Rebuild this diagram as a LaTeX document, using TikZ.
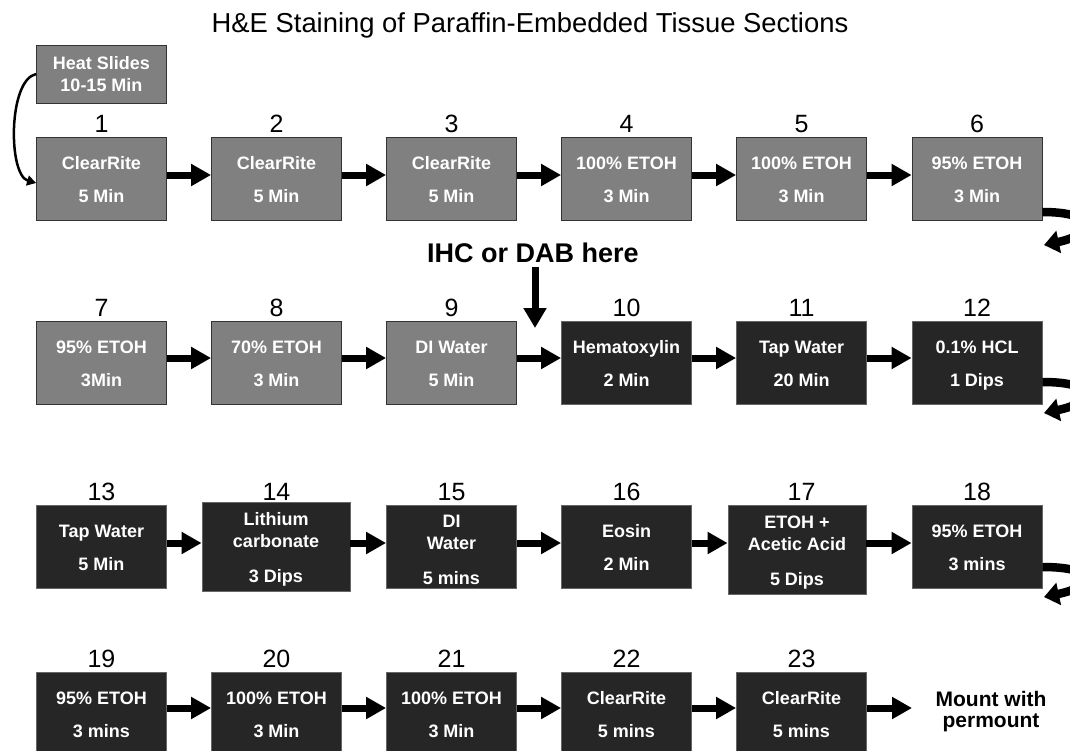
\documentclass[tikz,border=0pt]{standalone}
\usepackage{fontspec}
\setmainfont{Liberation Sans}
\usetikzlibrary{arrows.meta,calc}
\newcommand\bx[2]{\rule{0pt}{14pt}\smash{#1}\\[11pt]\smash{#2}}
\newcommand\bxx[4][14pt]{\rule{0pt}{#1}\smash{#2}\\\smash{#3}\\[13pt]\smash{#4}}
\begin{document}
\begin{tikzpicture}[x=1pt,y=-1pt,
  lbox/.style={draw=black!80, fill=black!50, line width=0.8pt, minimum width=130pt, minimum height=83pt,
    inner sep=0pt, text=white, align=center, font=\bfseries\fontsize{18}{22}\selectfont},
  dbox/.style={lbox, fill=black!85, draw=black!60},
  num/.style={anchor=base, inner sep=0pt, font=\fontsize{25}{25}\selectfont},
  flow/.style={line width=7pt, -{Triangle[length=20pt,width=21pt]}},
  turn/.style={line width=8.5pt, -{Triangle[length=15pt,width=22pt]}},
]
\clip (0,0) rectangle (1070,750);
\fill[white] (0,0) rectangle (1070,750);

% title
\node[anchor=base, inner sep=0pt, font=\fontsize{27.4}{27}\selectfont] (title) at (530,32)
  {H\&E Staining of Paraffin-Embedded Tissue Sections};

% row coordinates for arrows
\coordinate (r1) at (0,175);
\coordinate (r2) at (0,358);
\coordinate (r3) at (0,543);
\coordinate (r4) at (0,708);

% heat slides
\node[lbox, minimum height=58pt] (h) at (101.5,74) {\rule{0pt}{12pt}\smash{Heat Slides}\\\smash{10-15 Min}};

% row 1
\node[lbox] (b1) at (101.5,178.5) {\bx{ClearRite}{5 Min}};
\node[lbox] (b2) at (276.5,178.5) {\bx{ClearRite}{5 Min}};
\node[lbox] (b3) at (451.5,178.5) {\bx{ClearRite}{5 Min}};
\node[lbox] (b4) at (626.5,178.5) {\bx{100\% ETOH}{3 Min}};
\node[lbox] (b5) at (801.5,178.5) {\bx{100\% ETOH}{3 Min}};
\node[lbox] (b6) at (977,178.5) {\bx{95\% ETOH}{3 Min}};

% row 2
\node[lbox] (b7) at (101.5,362.5) {\bx{95\% ETOH}{3Min}};
\node[lbox] (b8) at (276.5,362.5) {\bx{70\% ETOH}{3 Min}};
\node[lbox] (b9) at (451.5,362.5) {\bx{DI Water}{5 Min}};
\node[dbox] (b10) at (626.5,362.5) {\bx{Hematoxylin}{2 Min}};
\node[dbox] (b11) at (801.5,362.5) {\bx{Tap Water}{20 Min}};
\node[dbox] (b12) at (977,362.5) {\bx{0.1\% HCL}{1 Dips}};

% row 3
\node[dbox] (b13) at (101.5,546.5) {\bx{Tap Water}{5 Min}};
\node[dbox, minimum width=148pt, minimum height=89pt] (b14) at (276,546.5) {\bxx{Lithium}{carbonate}{3 Dips}};
\node[dbox] (b15) at (451.5,546.5) {\bxx[19pt]{DI}{Water}{5 mins}};
\node[dbox] (b16) at (626.5,546.5) {\bx{Eosin}{2 Min}};
\node[dbox, minimum width=138pt, minimum height=89pt] (b17) at (797,549.5) {\bxx{ETOH +}{Acetic Acid}{5 Dips}};
\node[dbox] (b18) at (977,546.5) {\bx{95\% ETOH}{3 mins}};

% row 4
\node[dbox] (b19) at (101.5,713.5) {\bx{95\% ETOH}{3 mins}};
\node[dbox] (b20) at (276.5,713.5) {\bx{100\% ETOH}{3 Min}};
\node[dbox] (b21) at (451.5,713.5) {\bx{100\% ETOH}{3 Min}};
\node[dbox] (b22) at (626.5,713.5) {\bx{ClearRite}{5 mins}};
\node[dbox] (b23) at (801.5,713.5) {\bx{ClearRite}{5 mins}};
\node[inner sep=0pt, align=center, font=\bfseries\fontsize{21}{21}\selectfont] (mt) at (991,712) {Mount with\\permount};

% numbers
\foreach \i/\x in {1/101.5,2/276.5,3/451.5,4/626.5,5/801.5,6/977}
  \node[num] (n\i) at (\x,132) {\i};
\foreach \i/\x in {7/101.5,8/276.5,9/451.5,10/626.5,11/801.5,12/977}
  \node[num] (n\i) at (\x,316) {\i};
\foreach \i/\x in {13/101.5,14/276.5,15/451.5,16/626.5,17/801.5,18/977}
  \node[num] (n\i) at (\x,500) {\i};
\foreach \i/\x in {19/101.5,20/276.5,21/451.5,22/626.5,23/801.5}
  \node[num] (n\i) at (\x,667) {\i};

% flow arrows
\foreach \a/\b in {b1/b2,b2/b3,b3/b4,b4/b5,b5/b6}
  \draw[flow] (\a.east |- r1) -- (\b.west |- r1);
\foreach \a/\b in {b7/b8,b8/b9,b9/b10,b10/b11,b11/b12}
  \draw[flow] (\a.east |- r2) -- (\b.west |- r2);
\foreach \a/\b in {b13/b14,b14/b15,b15/b16,b16/b17,b17/b18}
  \draw[flow] (\a.east |- r3) -- (\b.west |- r3);
\foreach \a/\b in {b19/b20,b20/b21,b21/b22,b22/b23}
  \draw[flow] (\a.east |- r4) -- (\b.west |- r4);
\coordinate (m0) at (912,708);
\draw[flow] (b23.east |- r4) -- (m0);

% heat slides arrow
\draw[line width=2.5pt, -{Triangle[length=9pt,width=10pt]}]
  (h.west) .. controls (8,80) and (8,175) .. ([yshift=-4.5pt]b1.west);

% turn arrows on the right
\coordinate (e1) at (1044,245);
\coordinate (e2) at (1044,413);
\coordinate (e3) at (1044,597);
\draw[turn] ([yshift=-33.5pt]b6.east) .. controls (1098,212) and (1096,234) .. (e1);
\draw[turn] ([yshift=-19.5pt]b12.east) .. controls (1098,382) and (1096,402) .. (e2);
\draw[turn] ([yshift=-20.5pt]b18.east) .. controls (1098,567) and (1096,586) .. (e3);

% IHC note
\node[anchor=base, inner sep=0pt, font=\bfseries\fontsize{27}{27}\selectfont] (ihc) at (533,262) {IHC or DAB here};
\coordinate (ia) at (535,267);
\coordinate (ib) at (535,328);
\draw[line width=7pt, -{Triangle[length=20pt,width=22pt]}] (ia) -- (ib);
\end{tikzpicture}
\end{document}
